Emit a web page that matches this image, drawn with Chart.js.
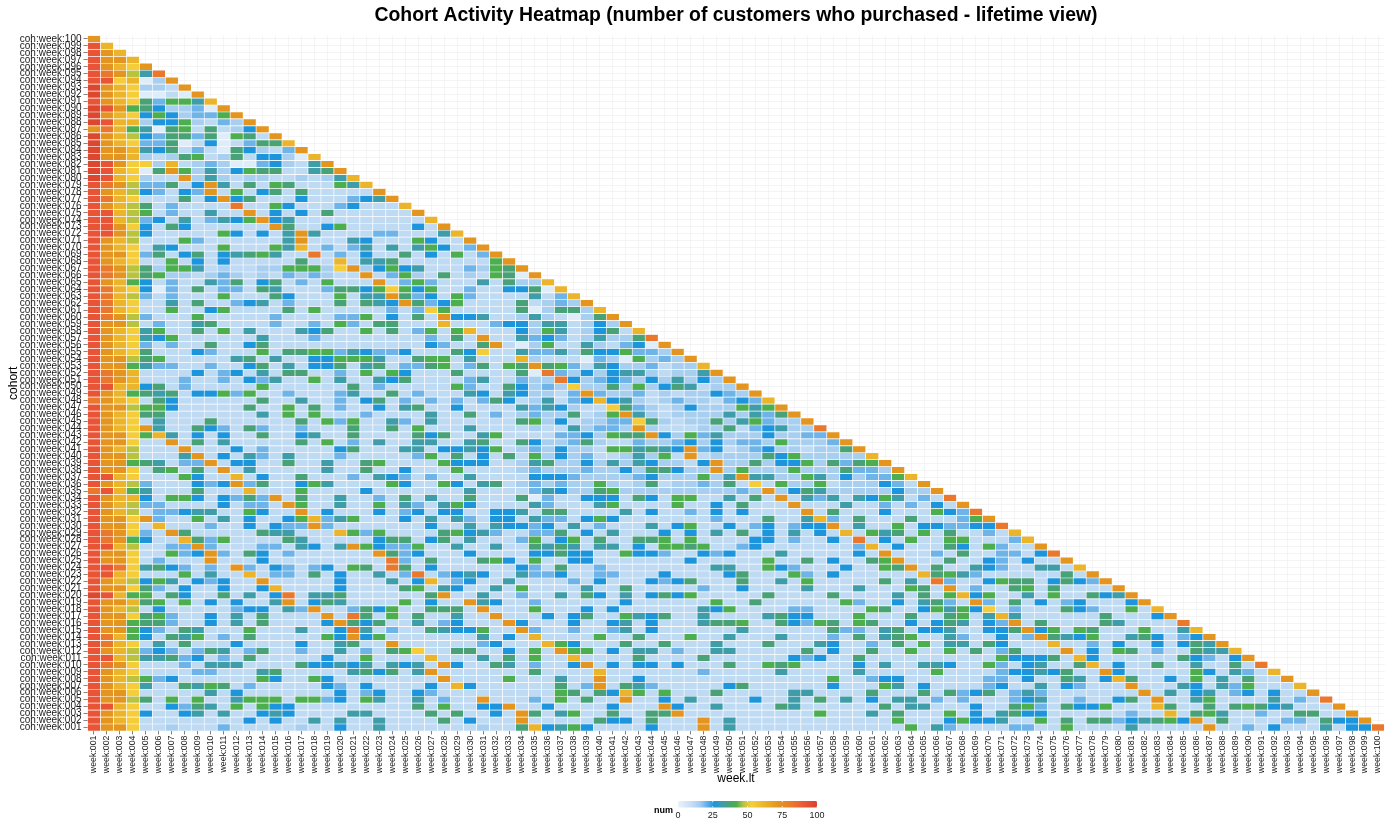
<!DOCTYPE html>
<html><head><meta charset="utf-8">
<script src="https://cdn.jsdelivr.net/npm/chart.js@4.4.1/dist/chart.umd.min.js"></script>
<style>html,body{margin:0;padding:0;background:#fff}#wrap{width:1400px;height:840px;position:relative}#msg{position:absolute;left:900px;top:60px;color:red;font:12px sans-serif;white-space:pre}</style>
</head><body><div id="wrap"><canvas id="c"></canvas><div id="msg"></div></div>
<script>
// ---- tick labels ----
const weekLabels = [];
const cohortLabels = [];
for (let i = 1; i <= 100; i++) {
  const s = String(i).padStart(3, '0');
  weekLabels.push('week:' + s);
  cohortLabels.push('coh:week:' + s);
}
// ---- colour-level codes -> num ----
const levelCodes = ['a','b','c','d','e','f','g','h','i','j','k','l','m','n','o'];
const levelNums  = [ 3, 11, 15, 20, 26, 32, 37, 42, 47, 54, 62, 72, 82, 92, 98];
// ---- cells, one string per cohort, from cohort 100 (top) down to cohort 001 ----
const rowCodesTopDown = [
"l","nk","nlk","nllk","nlkjl","nmlifm","nnjkacl","olkjccbl","olkjaabal","nlkjgdhhfk",
"onlhgeccdal","olkjehecddhl","onkkceehcbdcl","lmkhfaghbgbcel","olkiedggdgahgbl","olkjddgabeabdggk",
"ollkfegbdbagecbdl","ollkcbcghbcgbeecak","onljjckbcdcaadecbfl","onkjaglhcfcehggbbfgl",
"onkjcbblcfcbccbbcbcfk","nmliddgbelfbgbhgbbbhfk","nlkiedbedlbhbegbgbbbbbl","nmkjbbbgbelegbbbebbbdefl",
"nlkigbdbbbbmbbhebbbdebbbk","nnkihbdbbfbblbebebgbbbbbbl","nnkidebfbdfehlefbbbbbbbbbbk",
"nnljebgebbbbbblgbbehbbbbbebl","nnliebbbbbhebebflfbbbbddbbbfk","nlkibbbhdbbbbbbflbbbfebbbhebbl",
"nlkjbfebbbhbbbhfkbdbdfbfbfhebdl","nlljdgbegbefghfbbmbdbebbgbebhbdl","nlkjbbhbebebbbbbgbbkbffgbbbbbbbhl",
"nmligchhfbcbbcchhhcjlcehefbbbdchg"+"l",
"nmlighccbcdcbcbdcdcbblbdhcbgbcbhg"+"al",
"nlkhebdbbfdgbegbdbhbbblbdhdbbbfbg"+"cck",
"nmkjeadbgbddbgfbbbdggehjhehbbdbbe"+"egak",
"nmkidbdbbbhbbbgebbbhbfflgdebhdbbb"+"bfbdk",
"nmkjbbfbgbbdefbdbbbgbgfelgdehbbbb"+"gbcdcl",
"nmkjbbhbbehbbbbgbhbbbbbdbdjhbbbbb"+"gacggck",
"nmlidbbbhbbbbbdbbbbddhbebgbleefbb"+"cfcbacgl",
"nllibdbbfgbbbbdbbdbhdbggbbbkbbbde"+"ecffbcecl",
"nlkjfhbbgbhbfbbbfegbbhbgbdhbhkbbb"+"echfbcegbk",
"nlkjfehbbbbbbfbbbdbbbbbbbbdbgblbb"+"fdedbcfccgm",
"nlkjdbdbbgbbegbbbbbbbbbbbbedbbglb"+"achbbfcbdeal",
"nlkjgbbbedbbbhbgghhdfeddebbbgejbb"+"fddfcgeehddcl",
"nllighbbbbbfgbfbbeehhhfbbghhbfbbb"+"kcbbbadcahcdcl",
"nllhfddbbdbbegbfbeegbfgbddghbdgbh"+"glghdbfeccdbcck",
"nmlkbbbbebdebfbggbbdbhbhebbbgbbbb"+"gamdceceffcbccfl",
"nmlkbbbdbbdbedfbbhbfbbfegbbbbdfbb"+"dccmecdedcecfcecl",
"nnkkegbdbbbbbhbbbbbbgbdbbbbbhdbbg"+"ecdcjccgchcegfbccl",
"nlkhgfgbeehdhbbdbbbdfbbgbdbbbfebf"+"eccbdldccdbcbccedcl",
"mlkjbgebbbbbbgbbfbbdbegbdbdbdbdge"+"bcfbdekefcbcdccbdedk",
"nllihhebbbbbgbbhbgbdbbebfgbbebbbb"+"fdfecbbjgdcbceccchfhl",
"nlkjggbbbbbbbfbhbhbbbdbbbbfbbgbdb"+"cdccgbchlfcbccccfcfdgl",
"nlkjbfbbbgbbbbbbgbhdhbbfdbfbbbbbb"+"ghcebccddjgcbccgcfhdccl",
"nlkjlfbbgedbgdbbdbbbgbbgbhbbbfbbb"+"bcbbfcddclcbbbccgbdefccm",
"nlljhkfbebebbgbbefbbgbbbbgegbbfhb"+"bbbddechgglechdfccceccddl",
"nlljbblbgbfbbbbbgbhbdbfbbffbbfgbb"+"geccdgcbbdccdececddchcccdl",
"nlkibbblbbbebdbbbbbegbbbffbeefehb"+"cdceccbhhfgfeldebcdeccbccgl",
"nllibbbflbebfdbfbbbdbbbbbdhbgbebg"+"bhcecdbbcfchblbccccgehccccck",
"nllhgfbddlbeebbgbbfbbghbbbbheeebb"+"cfgccecfcfeccbelccgceehcgdghl",
"nlljbghbgblbfbbbbbfbbgbbebbbhbbbb"+"cdcccdccecggecclchccchcccgddcl",
"nnkjbbbhebbkbebbgbbbdbfedbdbbfbbb"+"beeedccccdeccchcflffcchfcecddhk",
"nlkidbbbedeldgbbehfbbbbhebbhebfgb"+"cdcdcchcbcgbccdcgbjbhcchbcccedbl",
"mnkhfbbbgbbbkbbbhbbbbebbbbbbbfbbb"+"bdfeccghcccccccccdclcegfccccceccl",
"nlkkebhhebedgdlbgbbfbbdbgbfbbgbbb"+"gadbbeeebgebhhbbfbgblbfdfbfehfbdb"+"m",
"nlkiddbbbbebddblhbbfbbhbfdbfhebbb"+"bfdbbbfhbbbbhbbebgbbblbbbfbbdbdbe"+"bl",
"nlkibddeffbbhebblbebbbebdebeebbee"+"fbggbbbbfbebbdbebebbbblbgbbbebbbh"+"edm",
"nlljldbbhbfbebbehkdfhbbbebfbfdbee"+"bfddbehebbbbbbbdbbbgbbfkdbgbbbgbb"+"bdhl",
"nlljbkbbbdbbebeddldbbbbbbbebbfbfe"+"edebfbdbbbfbehbbebdebdeelbfbbhbee"+"ddeem",
"nmljdblgbbbbbgffbbbkhdhbbbbghefdb"+"bddgbebfbbbebebfbgbebfbebkbhfgbhb"+"gbbdbk",
"nmlhebbkgdhbbbbgfbbbbbeggbegbfbbb"+"dhbehbgbbgghbhbbbbeebdbbebmbebhbb"+"hhbbbdk",
"nnkibbddldbbbddbfebflheddhbbfbbfb"+"bgfgfbffbebhhghbbdebbbbbbbdkbebbb"+"gebhdbbl",
"nlljbbhdeldbgebdbbbbbblgdebbbebbb"+"beegeebbheedbbedebbbfbbbbbeblbbbd"+"bgbbddbem",
"nlljbdbbblbbbebbbbbbbbbmdbgbbbghe"+"bhbbeebbbbbbbebbbbbhbbgbebbghlbbb"+"gbbedbebbl",
"nnmjfgedbdbldbedbdebhgbmgbebbbbbb"+"edbgbbdbbbbbbbbffbbhedbbbebbhglbg"+"bbfedbbffbk",
"nnkjbbbhbfbbkbddbgbebbfbdmbdefebb"+"fddebbddbbbebbbbegbbbhdbebbbbbbkg"+"hfdbbbbbbgbl",
"nlkiehfbedebblbbbbbebbbfbekbdebbf"+"bbbbdbebbbedegbbbgbbfbhbbbbbgbfbm"+"dbbehggbegedl",
"nlljgdbebbebbekbbbbebbbbghbfebbfb"+"hbbbbfbbgbbbbbdbbebbbbfbbbfbbbhgb"+"lbdbbghbgbbbbl",
"onkhhbgebbgbfbembffgbbbbbbglbbfbb"+"dbbfbgebfbegehbbbbbgbbbbgbbbbfbgb"+"hkehbbfbhbbgefl",
"nllkghbhbebebbflbegfbbbbhbebblfeb"+"bdbbbbbbebbbbbbhbbgbbbbbbhdbbebfg"+"dbldbgbebdebbbel",
"nlkibebbbbbdeebfdlbbdgehbbgggblbb"+"bhbbbebebbbbbbfehbbbbddbbbbhgbbeh"+"fhejbdbbbgedbbhbk",
"nlljghdbbebfbgbbbblbmgbhbgbbfbblb"+"bbebegbbhfegbbfbbbbfgeebbbhbbbgbb"+"ghbfkfbbbbbbgbbbel",
"nllhggdbbebfbgbbbbelgegbbfbdebbbl"+"ebbbebbefbebbbfgghbbgedhgbhgbbebe"+"gfbedlbgbbbbgfbbbbm",
"nllhedbgfbbbhbbbfbbemfbdbbgfeehbb"+"ldbbdbbdfbebbbbbbfbbbbbbgddbfgbee"+"fbbeeglehbhgbbbhbbfk",
"nmkhebgfhbdbgbbbbbhelehbbbbbbbfbe"+"bkbbbbhbbgbbbhbbfbbbfbbbdbgbfghbb"+"fdbbebdlgfehbbfgebdel",
"nmkjbfbgbbbebbbbebbfgbblbbbbbbdeb"+"bbkhebbbgbbgbbbfbbbgbbbfebbdbgbhb"+"ffbgebbbkbbdbebbebegfl",
"nlkidedbdgfbdgbbdbbfbdbghjbbggbbe"+"bhblhhbebffbdbbffbbbbbgbebbgbbhbb"+"hbgbdgbbblbebhgbdbbgffk",
"nnkiffgdebdbgbbbbbebbhbbbbkbbbfbg"+"bhbbkbbbbgbbbbgbbbbbbedebbgbbbbbb"+"bbbbheeegbkebbbbbbgedbel",
"nmljbbbdbfffbbbbgeefefbfefblebbgf"+"bdbbelbebeebebbbgbbhghbbbbebfbbff"+"ebbhdbefbbgkbebbgbbfbbgbm",
"nlkjbbbbddbbbfgbbbbbfgegbflbbbbbb"+"bgbbbbkbbbbbbbdbbbbbfbbbbbfbbbbbh"+"bbbbdeefegbblebbbbbhebfdbk",
"nlkihdebbbbbbhebbhebbbbbbbblbbbbh"+"bbbfbblbbebbbbbbbbbbbbbbhbbdeebbb"+"bbbddbebbgfbekgbbebhbfbgbbl",
"nlkjfbbgfhgbdbbbbbedbebbbbebkebbb"+"bbbgbdlbgfdbbbbbegbbbbbbebbbhfbeb"+"bbbdebbfbedbbblbbbfebfdhbbbk",
"nlljbbbbbfbebbbbbbbebdebbedbbbbbb"+"bbbhgbgekhbhbbbgbbbbbffbbbbgbbbgb"+"gdegbdfdbbbbbbblbfbefbdebebbl",
"nlligbhbhbbfhhhbhhdebhfbbfbdbblbb"+"bdbhbgbblbbebfbbbbebbfbgbfbebffbd"+"bdbbbdefbbdbbegblbbfhbbbbfbdbm",
"nnkjbbedgfbhbheebbbbbbbbbgbhbbeel"+"bbebbbbebbblebbfbbbbgfbbbbbbgbffb"+"bbebbghdbgeehbbbkgbbgbghgefbbbl",
"nlkjebbefbfbbefebbbbffbbbbgbgbbeb"+"lgbfhbbgbbgglbbbbbbbbbbhbbbfbgbbb"+"hbebfgeebbbbbbdbbkbghfbbdbbggbbl",
"nlkjbbbbbbbbebebbfbfbbfbbbbgbebbb"+"lbbbbbgeebgbbblbfbbbbbbbbbbbbhbbb"+"eheefbbhbgbggdefghelbgbbbbddbgeel",
"nlljbbcbbbdbbbbbcbbebbfbbbbbbbcbb"+"gkefhebbbbebbblbfbbbbbbbbbbbbbhbf"+"dbbbbddbbhbbbbfbbbbblbbdbebbbfbeem"
];
// ---- colour scale of "num" ----
const colorStops = [
  [0,'#eaf2fb'],[10,'#c5ddf4'],[16,'#a2ccef'],[21,'#62aee6'],[26,'#1c95dc'],
  [31,'#3b9cb3'],[36,'#48a07f'],[42,'#4cae4f'],[47,'#b9c340'],[53,'#f6cf3b'],
  [62,'#ebb42b'],[72,'#e3951f'],[82,'#ea782c'],[92,'#e95436'],[100,'#d9432d']
];
const legendTicks = [0, 25, 50, 75, 100];

// decode: numByCohort[0] = cohort 001
const numByCohort = [];
const bad = [];
for (let c = 1; c <= 100; c++) {
  const s = rowCodesTopDown[100 - c];
  if (s.length !== 101 - c) bad.push('cohort ' + c + ' len ' + s.length + ' want ' + (101 - c));
  numByCohort.push(Array.from(s).map(ch => levelNums[levelCodes.indexOf(ch)]));
}
if (bad.length) document.getElementById('msg').textContent = bad.join('\n');

function hexToRgb(h){return [parseInt(h.slice(1,3),16),parseInt(h.slice(3,5),16),parseInt(h.slice(5,7),16)];}
const stopsRgb = colorStops.map(([v,h]) => [v, hexToRgb(h)]);
function colorFor(v){
  for (let i = 1; i < stopsRgb.length; i++) {
    if (v <= stopsRgb[i][0]) {
      const [v0,c0] = stopsRgb[i-1], [v1,c1] = stopsRgb[i];
      const t = (v - v0) / (v1 - v0);
      return 'rgb(' + c0.map((c,k) => Math.round(c + (c1[k]-c)*t)).join(',') + ')';
    }
  }
  return colorStops[colorStops.length-1][1];
}

const FONT = "'Liberation Sans', Arial, Helvetica, sans-serif";
const datasets = numByCohort.map((vals, ci) => ({
  label: cohortLabels[ci],
  data: vals.map(() => [ci, ci + 1]),
  backgroundColor: vals.map(v => colorFor(v))
}));

const legendPlugin = {
  id: 'numLegend',
  afterDraw(chart) {
    const ctx = chart.ctx;
    const x0 = 678, x1 = 817, y0 = 801, h = 6.5;
    ctx.save();
    const g = ctx.createLinearGradient(x0, 0, x1, 0);
    colorStops.forEach(([v, col]) => g.addColorStop(v / 100, col));
    ctx.fillStyle = g;
    ctx.fillRect(x0, y0, x1 - x0, h);
    ctx.strokeStyle = '#ffffff';
    ctx.lineWidth = 0.8;
    legendTicks.forEach(v => {
      const x = x0 + (x1 - x0) * v / 100;
      ctx.beginPath(); ctx.moveTo(x, y0); ctx.lineTo(x, y0 + 1.3);
      ctx.moveTo(x, y0 + h - 1.3); ctx.lineTo(x, y0 + h); ctx.stroke();
    });
    ctx.fillStyle = '#222222';
    ctx.font = '9px ' + FONT;
    ctx.textAlign = 'center'; ctx.textBaseline = 'middle';
    legendTicks.forEach(v => ctx.fillText(String(v), x0 + (x1 - x0) * v / 100, 815.5));
    ctx.fillStyle = '#000000';
    ctx.font = 'bold 9px ' + FONT;
    ctx.textAlign = 'right';
    ctx.fillText('num', 673, 810.5);
    ctx.restore();
  }
};

new Chart(document.getElementById('c'), {
  type: 'bar',
  data: { labels: weekLabels, datasets },
  options: {
    responsive: true, maintainAspectRatio: false, animation: false,
    layout: { padding: { left: 0, right: 15.5, top: 0, bottom: 0 } },
    datasets: { bar: { grouped: false, barPercentage: 1, categoryPercentage: 1,
      borderWidth: 0.65, borderColor: '#ffffff', borderSkipped: false } },
    plugins: {
      legend: { display: false },
      tooltip: { enabled: false },
      title: { display: true, fullSize: false,
        text: 'Cohort Activity Heatmap (number of customers who purchased - lifetime view)',
        color: '#000000', font: { family: FONT, size: 19.4, weight: 'bold', lineHeight: 1.2 },
        padding: { top: 4.5, bottom: 7.7 } }
    },
    scales: {
      x: {
        type: 'category', offset: true,
        grid: { offset: false, color: '#ececec', lineWidth: 0.6, tickLength: 3.5, tickColor: '#333333', tickWidth: 0.6 },
        border: { display: false },
        ticks: { autoSkip: false, minRotation: 90, maxRotation: 90, padding: 1,
          color: '#1a1a1a', font: { family: FONT, size: 8.8 } },
        title: { display: true, text: 'week.lt', color: '#000000',
          font: { family: FONT, size: 12, lineHeight: 1.2 }, padding: { top: 0, bottom: 53.8 } },
        afterFit(s) { s.height = 109; }
      },
      y: {
        type: 'linear', min: 0, max: 100,
        afterBuildTicks(s) { s.ticks = cohortLabels.map((_, i) => ({ value: i + 0.5 })); },
        grid: { color: '#ececec', lineWidth: 0.6, tickLength: 4, tickColor: '#333333', tickWidth: 0.6 },
        border: { display: false },
        ticks: { autoSkip: false, padding: 2, color: '#1a1a1a',
          font: { family: FONT, size: 10 },
          callback: (v, i) => cohortLabels[i] },
        title: { display: true, text: 'cohort', color: '#000000',
          font: { family: FONT, size: 12, lineHeight: 1.2 }, padding: { top: 6.8, bottom: 0 } },
        afterFit(s) { s.width = 87.5; }
      }
    }
  },
  plugins: [legendPlugin]
});
</script>
</body></html>
